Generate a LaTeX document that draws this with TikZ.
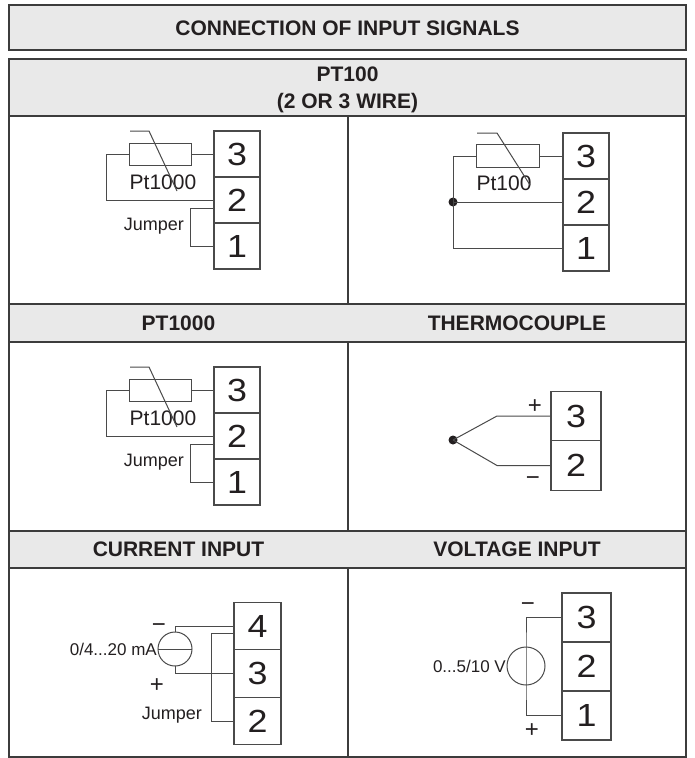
\documentclass[tikz,border=0pt]{standalone}
\usepackage{fontspec}
\setmainfont{Liberation Sans}
\newfontfamily\digitfont[FakeStretch=1.12]{Liberation Sans}
\usetikzlibrary{positioning}

\definecolor{hdrgray}{HTML}{E9E9E9}
\definecolor{framecol}{HTML}{3C3C3C}
\definecolor{ink}{HTML}{231F20}
\definecolor{wirecol}{HTML}{4A4A4A}

\begin{document}
\begin{tikzpicture}[x=1pt, y=-1pt,
  every node/.style={text=ink},
  grid/.style={draw=framecol, line width=1.4pt},
  hdr/.style={font=\fontsize{21}{27}\selectfont\bfseries, align=center},
  term/.style={draw=wirecol, line width=1.1pt, rectangle, minimum width=46pt, minimum height=46pt,
    inner sep=0pt, outer sep=0pt, font=\digitfont\fontsize{32}{32}\selectfont},
  wire/.style={draw=wirecol, line width=1pt},
  res/.style={wire, rectangle, minimum width=62pt, minimum height=22pt, inner sep=0pt, outer sep=0pt},
  src/.style={wire, circle, inner sep=0pt, outer sep=0pt},
  joint/.style={circle, fill=ink, inner sep=0pt, minimum size=9pt},
  lbl/.style={font=\fontsize{21}{24}\selectfont, inner sep=0pt},
  jmp/.style={font=\fontsize{18}{20}\selectfont, inner sep=0pt},
  srclbl/.style={font=\fontsize{17}{19}\selectfont, inner sep=1pt},
  pm/.style={font=\fontsize{24}{24}\selectfont, inner sep=0pt}
]

\useasboundingbox (0,0) rectangle (694,758);

% title and table frame
\draw[grid, fill=hdrgray] (9,5) rectangle (686,50);
\node[hdr] (title) at (347.5,28) {CONNECTION OF INPUT SIGNALS};

\fill[hdrgray] (9,59) rectangle (686,116);
\fill[hdrgray] (9,304) rectangle (686,342);
\fill[hdrgray] (9,531) rectangle (686,568);
\draw[grid] (9,59) rectangle (686,757);
\draw[grid] (9,116) -- (686,116);
\draw[grid] (9,304) -- (686,304);
\draw[grid] (9,342) -- (686,342);
\draw[grid] (9,531) -- (686,531);
\draw[grid] (9,568) -- (686,568);
\draw[grid] (348,116) -- (348,304);
\draw[grid] (348,342) -- (348,531);
\draw[grid] (348,568) -- (348,757);

\node[hdr] (hpt100) at (347.5,90) {PT100\\(2 OR 3 WIRE)};
\node[hdr] (hpt1000) at (178.5,323) {PT1000};
\node[hdr] (htc) at (517,323) {THERMOCOUPLE};
\node[hdr] (hcur) at (178.5,549.5) {CURRENT INPUT};
\node[hdr] (hvolt) at (517,549.5) {VOLTAGE INPUT};

% Pt1000 with jumper (upper)
\node[term] (a3) at (237,154) {3};
\node[term, below=0pt of a3] (a2) {2};
\node[term, below=0pt of a2] (a1) {1};
\node[res] (ra) at (160,154) {};
\node[lbl] (pta) at (163,182) {Pt1000};
\coordinate (wa) at (106,200);
\coordinate (ja) at (190,208);
\draw[wire] (ra.east) -- (a3.west);
\draw[wire] (ra.west) -| (wa) -- (a2.west);
\draw[wire] (ja -| a2.west) -- (ja) |- (a1.west);
\draw[wire] (130,131) -- (149,131) -- (177,191);
\node[jmp, anchor=east] (jpa) at (184,226) {Jumper};

% Pt100, 3 wire
\node[term] (c3) at (586,156) {3};
\node[term, below=0pt of c3] (c2) {2};
\node[term, below=0pt of c2] (c1) {1};
\node[res, minimum width=63pt, minimum height=23pt] (rc) at (507.5,156) {};
\node[joint] (jc) at (453,202) {};
\node[lbl] (ptc) at (504,183) {Pt100};
\draw[wire] (rc.east) -- (c3.west);
\draw[wire] (rc.west) -| (jc.center) -- (c2.west);
\draw[wire] (jc.center) |- (c1.west);
\draw[wire] (477,133) -- (497,133) -- (530,185);

% Pt1000 with jumper (lower)
\node[term] (b3) at (237,390) {3};
\node[term, below=0pt of b3] (b2) {2};
\node[term, below=0pt of b2] (b1) {1};
\node[res] (rb) at (160,390) {};
\node[lbl] (ptb) at (163,418) {Pt1000};
\coordinate (wb) at (106,436);
\coordinate (jb) at (190,444);
\draw[wire] (rb.east) -- (b3.west);
\draw[wire] (rb.west) -| (wb) -- (b2.west);
\draw[wire] (jb -| b2.west) -- (jb) |- (b1.west);
\draw[wire] (130,367) -- (149,367) -- (177,427);
\node[jmp, anchor=east] (jpb) at (184,462) {Jumper};

% thermocouple
\node[term, minimum width=50pt, minimum height=49.5pt] (d3) at (576,416) {3};
\node[term, minimum width=50pt, minimum height=49.5pt, below=0pt of d3] (d2) {2};
\node[joint] (jd) at (453,440) {};
\coordinate (ka) at (497,416);
\coordinate (kb) at (497,465.5);
\draw[wire] (jd.center) -- (ka) -- (d3.west);
\draw[wire] (jd.center) -- (kb) -- (d2.west);
\node[pm] (pd) at (535,407) {+};
\node[pm] (md) at (533,481) {−};

% current input
\node[term, minimum width=47pt, minimum height=47.5pt] (e4) at (257.5,626) {4};
\node[term, minimum width=47pt, minimum height=47.5pt, below=0pt of e4] (e3) {3};
\node[term, minimum width=47pt, minimum height=47.5pt, below=0pt of e3] (e2) {2};
\node[src, minimum size=34pt] (cs) at (175,649) {};
\coordinate (je) at (211,633);
\draw[wire] (cs.west) -- (cs.east);
\draw[wire] (cs.north) |- (e4.west);
\draw[wire] (cs.south) |- (e3.west);
\draw[wire] (je -| e4.west) -- (je) |- (e2.west);
\node[pm] (me) at (159,628) {−};
\node[pm] (pe) at (157,686) {+};
\node[srclbl, left=0pt of cs] (ie) {0/4...20 mA};
\node[jmp, anchor=east] (jpe) at (202,715) {Jumper};

% voltage input
\node[term, minimum width=49pt, minimum height=49pt] (f3) at (586.5,617.5) {3};
\node[term, minimum width=49pt, minimum height=49pt, below=0pt of f3] (f2) {2};
\node[term, minimum width=49pt, minimum height=49pt, below=0pt of f2] (f1) {1};
\node[src, minimum size=38pt] (vs) at (526,666) {};
\draw[wire] (f3.west) -| (vs.north) -- (vs.south) |- (f1.west);
\node[pm] (mf) at (528,607) {−};
\node[pm] (pf) at (532,731) {+};
\node[srclbl, left=0pt of vs] (uf) {0...5/10 V};

\end{tikzpicture}
\end{document}
